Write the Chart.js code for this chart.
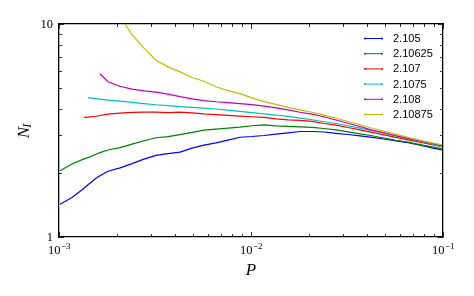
<!DOCTYPE html>
<html>
<head>
<meta charset="utf-8">
<script src="https://cdn.jsdelivr.net/npm/chart.js@4/dist/chart.umd.min.js"></script>
<style>
  html, body { margin: 0; padding: 0; background: #fff; }
  #wrap { width: 474px; height: 296px; }
</style>
</head>
<body>
<div id="wrap"><canvas id="c" width="474" height="296"></canvas></div>
<script>
// ---- data ----
const P = [1.012e-3, 1.169e-3, 1.350e-3, 1.416e-3, 1.558e-3, 1.635e-3, 1.800e-3,
  2.078e-3, 2.400e-3, 2.771e-3, 3.200e-3, 3.696e-3, 4.268e-3, 4.928e-3, 5.690e-3,
  6.571e-3, 7.589e-3, 8.763e-3, 1.012e-2, 1.169e-2, 1.350e-2, 1.558e-2, 1.800e-2,
  2.078e-2, 2.400e-2, 2.771e-2, 3.200e-2, 3.696e-2, 4.268e-2, 4.928e-2, 5.690e-2,
  6.571e-2, 7.589e-2, 8.763e-2, 9.88e-2];

const N_2105 = [1.426, 1.532, 1.693, 1.759, 1.887, 1.939, 2.037, 2.111, 2.210, 2.321,
  2.415, 2.463, 2.504, 2.615, 2.701, 2.767, 2.852, 2.940, 2.963, 2.995, 3.038, 3.085,
  3.128, 3.128, 3.111, 3.068, 3.028, 2.985, 2.937, 2.884, 2.828, 2.770, 2.696, 2.621, 2.564];

const N_210625 = [2.048, 2.203, 2.326, 2.359, 2.447, 2.490, 2.561, 2.630, 2.729, 2.831,
  2.924, 2.960, 3.022, 3.101, 3.176, 3.211, 3.242, 3.278, 3.328, 3.357, 3.324, 3.303,
  3.292, 3.274, 3.232, 3.186, 3.118, 3.051, 2.988, 2.915, 2.843, 2.788, 2.716, 2.649, 2.592];

const N_2107 = [null, null, 3.642, 3.658, 3.690, 3.718, 3.771, 3.812, 3.846, 3.858,
  3.858, 3.837, 3.858, 3.825, 3.783, 3.758, 3.722, 3.694, 3.670, 3.642, 3.583, 3.544,
  3.525, 3.487, 3.412, 3.350, 3.267, 3.186, 3.101, 3.018, 2.937, 2.859, 2.791, 2.716, 2.658];

const N_21075 = [null, null, null, 4.516, 4.467, 4.443, 4.395, 4.343, 4.287, 4.232,
  4.177, 4.136, 4.092, 4.061, 4.025, 3.990, 3.939, 3.888, 3.837, 3.783, 3.738, 3.681,
  3.614, 3.552, 3.475, 3.412, 3.328, 3.242, 3.159, 3.071, 2.982, 2.899, 2.818, 2.737, 2.658];

const N_2108 = [null, null, null, null, null, 5.842, 5.355, 5.100, 4.947, 4.851,
  4.789, 4.686, 4.560, 4.453, 4.367, 4.315, 4.277, 4.232, 4.186, 4.118, 4.037, 3.952,
  3.853, 3.771, 3.670, 3.544, 3.420, 3.303, 3.176, 3.085, 2.988, 2.905, 2.831, 2.754, 2.687];

const N_210875 = [null, null, null, null, null, null, null, 10.85, 8.923, 7.706,
  6.765, 6.290, 5.957, 5.606, 5.384, 5.073, 4.867, 4.711, 4.501, 4.318, 4.195, 4.061,
  3.952, 3.853, 3.734, 3.610, 3.487, 3.365, 3.239, 3.139, 3.034, 2.937, 2.846, 2.767, 2.706];

const seriesLabels = ['2.105', '2.10625', '2.107', '2.1075', '2.108', '2.10875'];
const seriesValues = [N_2105, N_210625, N_2107, N_21075, N_2108, N_210875];

const xLimits = [1e-3, 1e-1];
const yLimits = [1, 10];
const xTitle = 'P';
const yTitleMain = 'N';
const yTitleSub = 'I';

// ---- styles ----
const colors = ['#0000ff', '#008000', '#ff0000', '#00bfbf', '#bf00bf', '#bfbf00'];
const serif = '"Liberation Serif", "DejaVu Serif", serif';
const sans = '"Liberation Sans", Arial, sans-serif';

const datasets = seriesValues.map((vals, i) => ({
  label: seriesLabels[i],
  data: P.map((x, k) => ({ x: x, y: vals[k] })).filter(d => d.y !== null),
  borderColor: colors[i],
  backgroundColor: colors[i],
  borderWidth: 1.2,
  pointRadius: 0,
  tension: 0,
  fill: false,
  order: seriesValues.length - i
}));

const isPow10 = v => Math.abs(Math.log10(v) - Math.round(Math.log10(v))) < 1e-6;

// tick values (1..9 per decade) inside a log range
function logTickValues(lo, hi) {
  const out = [];
  for (let e = Math.floor(Math.log10(lo)); e <= Math.ceil(Math.log10(hi)); e++) {
    for (let m = 1; m <= 9; m++) {
      const v = m * Math.pow(10, e);
      if (v >= lo * 0.999999 && v <= hi * 1.000001) out.push(v);
    }
  }
  return out;
}

const noGrid = { display: false };
const borderStyle = { display: true, color: '#000', width: 1.3 };

const overlay = {
  id: 'overlay',
  afterDraw(chart) {
    const ctx = chart.ctx;
    const a = chart.chartArea;
    const xs = chart.scales.x, ys = chart.scales.y;
    ctx.save();
    ctx.strokeStyle = '#000';
    ctx.lineWidth = 0.8;
    // inward ticks on all four sides
    logTickValues(xs.min, xs.max).forEach(v => {
      const len = isPow10(v) ? 5 : 3;
      const px = Math.round(xs.getPixelForValue(v)) + 0.5;
      ctx.beginPath();
      ctx.moveTo(px, a.bottom); ctx.lineTo(px, a.bottom - len);
      ctx.moveTo(px, a.top); ctx.lineTo(px, a.top + len);
      ctx.stroke();
    });
    logTickValues(ys.min, ys.max).forEach(v => {
      const len = isPow10(v) ? 5 : 3;
      const py = Math.round(ys.getPixelForValue(v)) + 0.5;
      ctx.beginPath();
      ctx.moveTo(a.left, py); ctx.lineTo(a.left + len, py);
      ctx.moveTo(a.right, py); ctx.lineTo(a.right - len, py);
      ctx.stroke();
    });
    // x tick labels: 10^e
    ctx.fillStyle = '#000';
    ctx.textBaseline = 'alphabetic';
    logTickValues(xs.min, xs.max).filter(isPow10).forEach(v => {
      const e = Math.round(Math.log10(v));
      const px = xs.getPixelForValue(v);
      const base = '10', sup = '\u2212' + Math.abs(e);
      ctx.font = '12.5px ' + serif;
      const w1 = ctx.measureText(base).width;
      ctx.font = '9px ' + serif;
      const w2 = ctx.measureText(sup).width;
      const x0 = px - (w1 + w2) / 2;
      ctx.font = '12.5px ' + serif;
      ctx.textAlign = 'left';
      ctx.fillText(base, x0, a.bottom + 16.5);
      ctx.font = '9px ' + serif;
      ctx.fillText(sup, x0 + w1 + 0.5, a.bottom + 11.5);
    });
    // y tick labels
    ctx.font = '12.5px ' + serif;
    ctx.textAlign = 'right';
    logTickValues(ys.min, ys.max).filter(isPow10).forEach(v => {
      const py = ys.getPixelForValue(v);
      ctx.fillText(String(Math.round(v)), a.left - 6, py + 3.5);
    });
    // x title
    ctx.font = 'italic 17px ' + serif;
    ctx.textAlign = 'center';
    ctx.fillText(xTitle, (a.left + a.right) / 2, a.bottom + 38);
    // y title N_I (rotated)
    ctx.save();
    ctx.translate(28.5, (a.top + a.bottom) / 2);
    ctx.rotate(-Math.PI / 2);
    ctx.font = 'italic 17px ' + serif;
    const wN = ctx.measureText(yTitleMain).width;
    ctx.font = 'italic 12px ' + serif;
    const wI = ctx.measureText(yTitleSub).width;
    const s0 = -(wN + wI) / 2;
    ctx.textAlign = 'left';
    ctx.font = 'italic 17px ' + serif;
    ctx.fillText(yTitleMain, s0, 0);
    ctx.font = 'italic 12px ' + serif;
    ctx.fillText(yTitleSub, s0 + wN - 1, 2.5);
    ctx.restore();
    // legend
    ctx.font = '11px ' + sans;
    ctx.textAlign = 'left';
    ctx.textBaseline = 'middle';
    chart.data.datasets.forEach((ds, i) => {
      const y = 38.5 + i * 15.2;
      ctx.strokeStyle = ds.borderColor;
      ctx.fillStyle = ds.borderColor;
      ctx.lineWidth = 1;
      ctx.beginPath();
      ctx.moveTo(365, y); ctx.lineTo(382, y);
      ctx.stroke();
      [365, 382].forEach(mx => {
        ctx.beginPath(); ctx.arc(mx, y, 1, 0, Math.PI * 2); ctx.fill();
      });
      ctx.fillStyle = '#000';
      ctx.fillText(ds.label, 393, y + 0.5);
    });
    ctx.restore();
  }
};

new Chart(document.getElementById('c'), {
  type: 'line',
  data: { datasets: datasets },
  options: {
    responsive: false,
    animation: false,
    devicePixelRatio: 1,
    layout: { padding: 0 },
    plugins: { legend: { display: false }, tooltip: { enabled: false } },
    scales: {
      x: {
        type: 'logarithmic', position: 'bottom', min: xLimits[0], max: xLimits[1],
        afterFit: s => { s.height = 59; },
        ticks: { display: false },
        grid: noGrid, border: borderStyle
      },
      x2: {
        type: 'logarithmic', axis: 'x', position: 'top', min: xLimits[0], max: xLimits[1],
        afterFit: s => { s.height = 24; },
        ticks: { display: false },
        grid: noGrid, border: borderStyle
      },
      y: {
        type: 'logarithmic', position: 'left', min: yLimits[0], max: yLimits[1],
        afterFit: s => { s.width = 59; },
        ticks: { display: false },
        grid: noGrid, border: borderStyle
      },
      y2: {
        type: 'logarithmic', axis: 'y', position: 'right', min: yLimits[0], max: yLimits[1],
        afterFit: s => { s.width = 31; },
        ticks: { display: false },
        grid: noGrid, border: borderStyle
      }
    }
  },
  plugins: [overlay]
});
</script>
</body>
</html>
